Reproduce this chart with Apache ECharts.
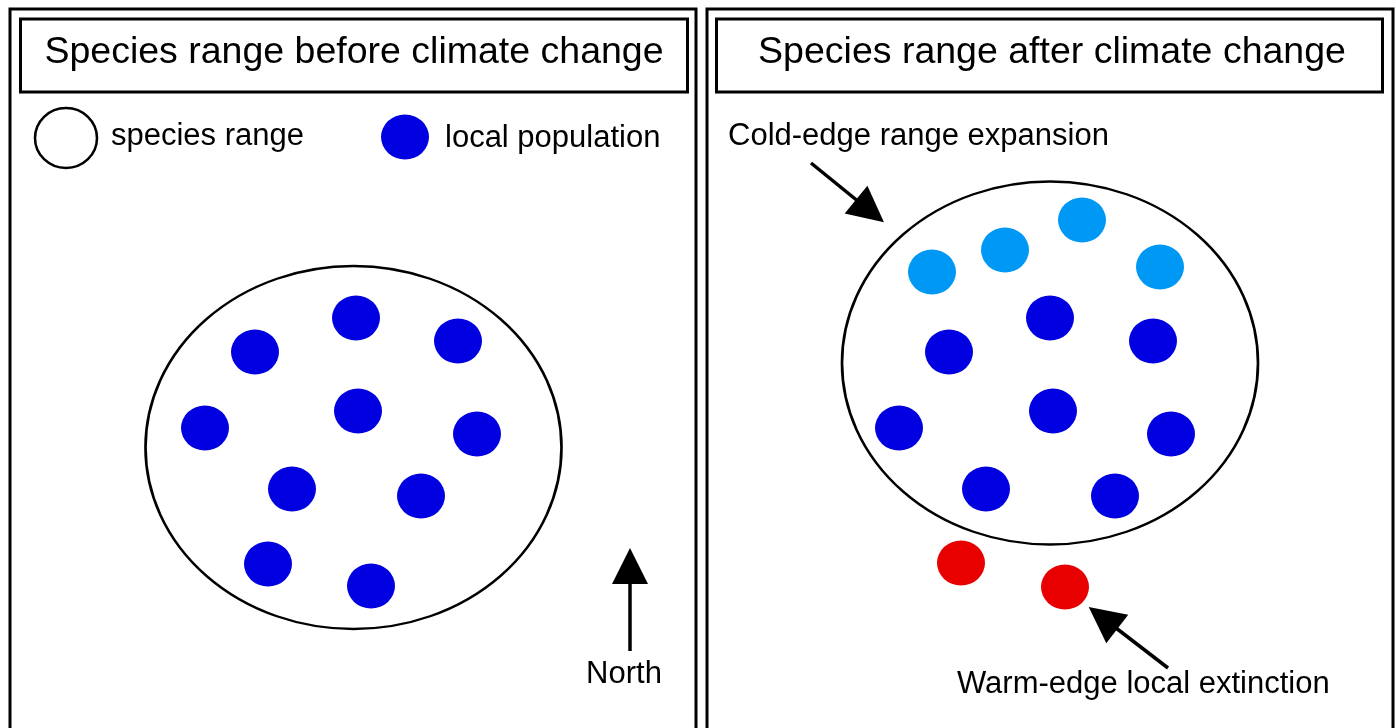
<!DOCTYPE html>
<html>
<head>
<meta charset="utf-8">
<script src="https://cdn.jsdelivr.net/npm/echarts@6/dist/echarts.min.js"></script>
<style>
html,body{margin:0;padding:0;background:#fff;}
#main{width:1396px;height:728px;}
</style>
</head>
<body>
<div id="main"></div>
<script>
// ---- data (diagram coordinates, pixel-like units) ----
var panelTitles = ['Species range before climate change', 'Species range after climate change'];
var legendLabels = ['species range', 'local population'];
var annotations = ['Cold-edge range expansion', 'Warm-edge local extinction', 'North'];

// species range ellipse centres
var rangeCentres = [[353.5, 447.5], [1050, 363]];

// local populations (before)
var beforePops = [[356,318],[255,352],[458,341],[205,428],[358,411],[477,434],[292,489],[421,496],[268,564],[371,586]];
// after: newly colonised (cold edge)
var newPops = [[932,272],[1005,250],[1082,220],[1160,267]];
// after: persisting populations
var persistPops = [[1050,318],[949,352],[1153,341],[899,428],[1053,411],[1171,434],[986,489],[1115,496]];
// after: extinct (warm edge)
var extinctPops = [[961,563],[1065,587]];

// legend markers
var legendRange = [[66,138]];
var legendPop = [[405,137]];

// arrows [from, to]
var arrowLines = [
  [[630,651],[630,566]],
  [[811,163],[870,211]],
  [[1168,668],[1103,618]]
];

var BLUE = '#0000e0', LIGHT = '#0098f5', RED = '#e80000';
var FONT = '"Liberation Sans", Arial, Helvetica, sans-serif';

var chart = echarts.init(document.getElementById('main'), null, {renderer:'canvas'});

function rect(x,y,w,h,lw){
  return {type:'rect', shape:{x:x,y:y,width:w,height:h}, style:{fill:'none',stroke:'#000',lineWidth:lw}, z:1};
}
function txt(s,x,y,size,align){
  return {type:'text', x:x, y:y, style:{text:s, fill:'#000', font:size+'px '+FONT, align:align||'left', verticalAlign:'middle'}, z:5};
}

var option = {
  backgroundColor:'#fff',
  animation:false,
  grid:{left:0,right:0,top:0,bottom:0},
  xAxis:{type:'value',min:0,max:1396,show:false},
  yAxis:{type:'value',min:0,max:728,inverse:true,show:false},
  graphic:[
    rect(10,9,686,730,3),
    rect(707,9,686,730,3),
    rect(20.5,19,667,73,3),
    rect(716.5,19,666,73,3),
    txt(panelTitles[0],354,53,37.5,'center'),
    txt(panelTitles[1],1052,53,37.5,'center'),
    txt(legendLabels[0],111,136,31),
    txt(legendLabels[1],445,138,31),
    txt(annotations[0],728,136,31),
    txt(annotations[1],957,684,31),
    txt(annotations[2],624,674,31,'center')
  ],
  series:[
    {type:'scatter', data:rangeCentres, symbol:'circle', symbolSize:[416,363],
     itemStyle:{color:'rgba(0,0,0,0)', borderColor:'#000', borderWidth:2.5, opacity:1}, z:2, silent:true},
    {type:'scatter', data:legendRange, symbol:'circle', symbolSize:[62,60],
     itemStyle:{color:'rgba(0,0,0,0)', borderColor:'#000', borderWidth:2.5, opacity:1}, z:2, silent:true},
    {type:'scatter', data:beforePops.concat(persistPops).concat(legendPop), symbol:'circle', symbolSize:[48,45],
     itemStyle:{color:BLUE, opacity:1}, z:3, silent:true},
    {type:'scatter', data:newPops, symbol:'circle', symbolSize:[48,45],
     itemStyle:{color:LIGHT, opacity:1}, z:3, silent:true},
    {type:'scatter', data:extinctPops, symbol:'circle', symbolSize:[48,45],
     itemStyle:{color:RED, opacity:1}, z:3, silent:true},
    {type:'lines', coordinateSystem:'cartesian2d', polyline:false,
     data:arrowLines.map(function(a){return {coords:a};}),
     symbol:['none','triangle'], symbolSize:[25,36],
     lineStyle:{color:'#000', width:3.5, opacity:1}, itemStyle:{color:'#000', opacity:1}, z:4, silent:true}
  ]
};
chart.setOption(option);
</script>
</body>
</html>
